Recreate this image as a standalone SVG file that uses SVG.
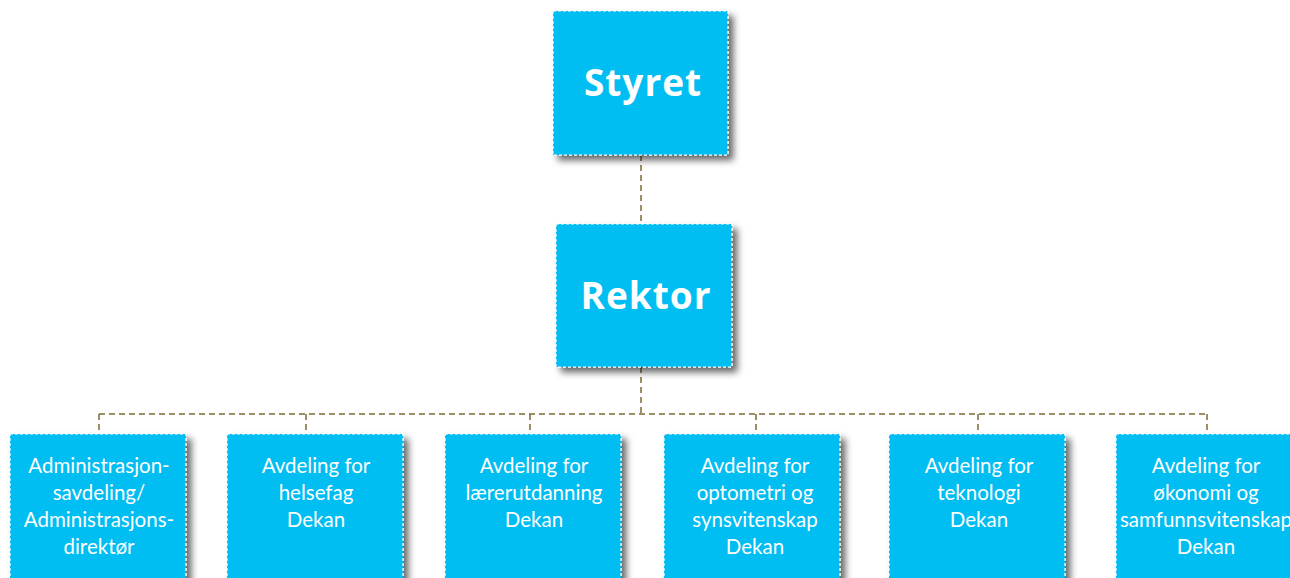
<svg xmlns="http://www.w3.org/2000/svg" width="1290" height="578" viewBox="0 0 1290 578">
<style>
.box{fill:#00bdf2;stroke:#ffffff;stroke-width:1.2;stroke-dasharray:3 2;filter:url(#sh)}
.big{font-family:"Open Sans",Lato,"DejaVu Sans",sans-serif;font-weight:bold;font-size:37px;fill:#fff;text-anchor:middle;letter-spacing:1px}
.t{font-family:Lato,"Open Sans","DejaVu Sans",sans-serif;font-size:20.5px;fill:#fff;text-anchor:middle}
.c{fill:none;stroke:#7f6a35;stroke-width:1.5;stroke-dasharray:6 4}
</style>
<defs>
<filter id="sh" x="-10%" y="-10%" width="130%" height="130%">
<feDropShadow dx="5" dy="5" stdDeviation="3.5" flood-color="#000" flood-opacity="0.6"/>
</filter>
</defs>
<rect width="1290" height="578" fill="#fff"/>
<g id="connectors">
<path class="c" d="M641 155V224"/>
<path class="c" d="M641 367V414"/>
<path class="c" d="M99 414H1207"/>
<path class="c" d="M99 414V434M306 414V434M530 414V434M756 414V434M978 414V434M1207 414V434"/>
</g>
<g id="styret"><rect class="box" x="553" y="11" width="175" height="144"/><text class="big" x="643" y="96">Styret</text></g>
<g id="rektor"><rect class="box" x="556" y="224" width="176" height="143"/><text class="big" x="646" y="309">Rektor</text></g>
<g id="admin"><rect class="box" x="10" y="434" width="176" height="160"/><text class="t" x="99" y="473">Administrasjon-</text><text class="t" x="99" y="500">savdeling/</text><text class="t" x="99" y="527">Administrasjons-</text><text class="t" x="99" y="554">direktør</text></g>
<g id="helse"><rect class="box" x="227" y="434" width="176" height="160"/><text class="t" x="316" y="473">Avdeling for</text><text class="t" x="316" y="500">helsefag</text><text class="t" x="316" y="527">Dekan</text></g>
<g id="laerer"><rect class="box" x="445" y="434" width="176" height="160"/><text class="t" x="534" y="473">Avdeling for</text><text class="t" x="534" y="500">lærerutdanning</text><text class="t" x="534" y="527">Dekan</text></g>
<g id="opto"><rect class="box" x="664" y="434" width="176" height="160"/><text class="t" x="755" y="473">Avdeling for</text><text class="t" x="755" y="500">optometri og</text><text class="t" x="755" y="527">synsvitenskap</text><text class="t" x="755" y="554">Dekan</text></g>
<g id="tek"><rect class="box" x="889" y="434" width="176" height="160"/><text class="t" x="979" y="473">Avdeling for</text><text class="t" x="979" y="500">teknologi</text><text class="t" x="979" y="527">Dekan</text></g>
<g id="oko"><rect class="box" x="1116" y="434" width="176" height="160"/><text class="t" x="1206" y="473">Avdeling for</text><text class="t" x="1206" y="500">økonomi og</text><text class="t" x="1206" y="527">samfunnsvitenskap</text><text class="t" x="1206" y="554">Dekan</text></g>
</svg>
